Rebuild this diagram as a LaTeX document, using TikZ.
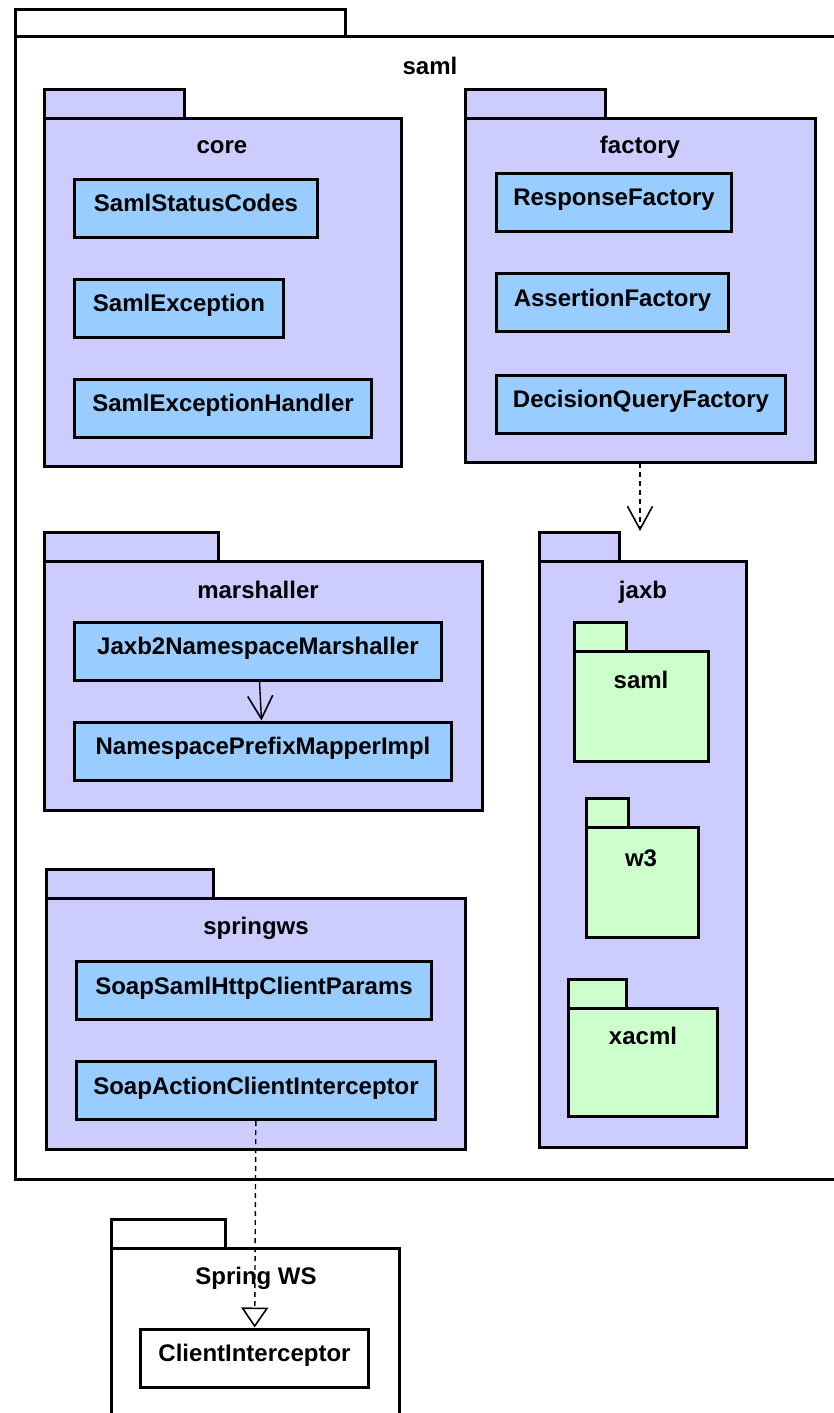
\documentclass[tikz,border=0pt]{standalone}
\usepackage{fontspec}
\setmainfont{Liberation Sans}
\usetikzlibrary{arrows.meta}

\definecolor{pkgblue}{HTML}{CCCCFF}
\definecolor{clsblue}{HTML}{99CCFF}
\definecolor{pkggreen}{HTML}{CCFFCC}

\tikzset{
  box/.style={draw,line width=1.5pt},
  cls/.style={box,fill=clsblue,minimum height=29pt,inner sep=0pt,
    text height=0.7em,text depth=0.35em},
  title/.style={anchor=base},
  assoc/.style={line width=0.7pt,-{Straight Barb[length=11.5pt,width=12.5pt,line width=0.8pt]}},
  dep/.style={assoc,dash pattern=on 2.5pt off 2pt},
  real/.style={line width=0.7pt,dash pattern=on 2.5pt off 2pt,
    -{Triangle[open,length=10pt,width=13.5pt,line width=0.8pt,fill=white]}}
}

\begin{document}
\begin{tikzpicture}[x=0.5pt,y=-0.5pt,font=\fontsize{12}{14}\selectfont\bfseries]
\useasboundingbox (0,0) rectangle (834,1413);

%saml
\draw[box,fill=white] (15.5,9.5) rectangle (345.5,37);
\draw[box,fill=white] (15.5,37) rectangle (845,1179.5);
\node[title] (t-saml) at (430,75) {saml};

%core
\draw[box,fill=pkgblue] (44.5,89.5) rectangle (184.5,118.5);
\draw[box,fill=pkgblue] (44.5,118.5) rectangle (401.5,466.5);
\node[title] (t-core) at (222,154) {core};
\node[cls,minimum width=121.5pt] (ssc) at (196,208) {SamlStatusCodes};
\node[cls,minimum width=104.5pt] (se) at (179,308) {SamlException};
\node[cls,minimum width=148.5pt] (seh) at (223,408) {SamlExceptionHandler};

%factory
\draw[box,fill=pkgblue] (465.5,89.5) rectangle (605.5,118.5);
\draw[box,fill=pkgblue] (465.5,118.5) rectangle (815.5,462.5);
\node[title] (t-factory) at (640,154) {factory};
\node[cls,minimum width=117.5pt] (rf) at (614,202) {ResponseFactory};
\node[cls,minimum width=116pt] (af) at (612.5,302.5) {AssertionFactory};
\node[cls,minimum width=144.5pt] (dqf) at (641,404) {DecisionQueryFactory};
\coordinate (factory-s) at (640,463);

%marshaller
\draw[box,fill=pkgblue] (44.5,532.5) rectangle (218.5,561.5);
\draw[box,fill=pkgblue] (44.5,561.5) rectangle (482.5,810.5);
\node[title] (t-marshaller) at (258,598) {marshaller};
\node[cls,minimum width=183.5pt] (jnm) at (258,651) {Jaxb2NamespaceMarshaller};
\node[cls,minimum width=188.5pt] (npm) at (263,751) {NamespacePrefixMapperImpl};

%jaxb
\draw[box,fill=pkgblue] (539.5,532.5) rectangle (619.5,561.5);
\draw[box,fill=pkgblue] (539.5,561.5) rectangle (746.5,1147.5);
\node[title] (t-jaxb) at (643,598) {jaxb};
\coordinate (jaxb-n) at (640,531);

\draw[box,fill=pkggreen] (574.5,622.5) rectangle (626.5,651.5);
\draw[box,fill=pkggreen] (574.5,651.5) rectangle (708.5,761.5);
\node[title] (t-jsaml) at (641,688) {saml};

\draw[box,fill=pkggreen] (586.5,798.5) rectangle (628.5,827.5);
\draw[box,fill=pkggreen] (586.5,827.5) rectangle (698.5,937.5);
\node[title] (t-w3) at (641,866) {w3};

\draw[box,fill=pkggreen] (568.5,979.5) rectangle (626.5,1008.5);
\draw[box,fill=pkggreen] (568.5,1008.5) rectangle (717.5,1116.5);
\node[title] (t-xacml) at (643,1044) {xacml};

%springws
\draw[box,fill=pkgblue] (46.5,869.5) rectangle (213.5,898.5);
\draw[box,fill=pkgblue] (46.5,898.5) rectangle (465.5,1149.5);
\node[title] (t-springws) at (256,934) {springws};
\node[cls,minimum width=177.5pt] (sshcp) at (254,990.5) {SoapSamlHttpClientParams};
\node[cls,minimum width=179.5pt] (saci) at (256,1090.5) {SoapActionClientInterceptor};

%Spring WS
\draw[box,fill=white] (111.5,1219.5) rectangle (225.5,1248.5);
\draw[box,fill=white] (111.5,1248.5) rectangle (399.5,1425);
\node[title] (t-spring) at (256,1284) {Spring WS};
\node[cls,fill=white,minimum width=114pt] (ci) at (254.5,1358) {ClientInterceptor};

%connectors
\draw[dep] (factory-s) -- (jaxb-n);
\draw[assoc] (jnm) -- (npm);
\draw[real] (saci) -- (ci);

\end{tikzpicture}
\end{document}
